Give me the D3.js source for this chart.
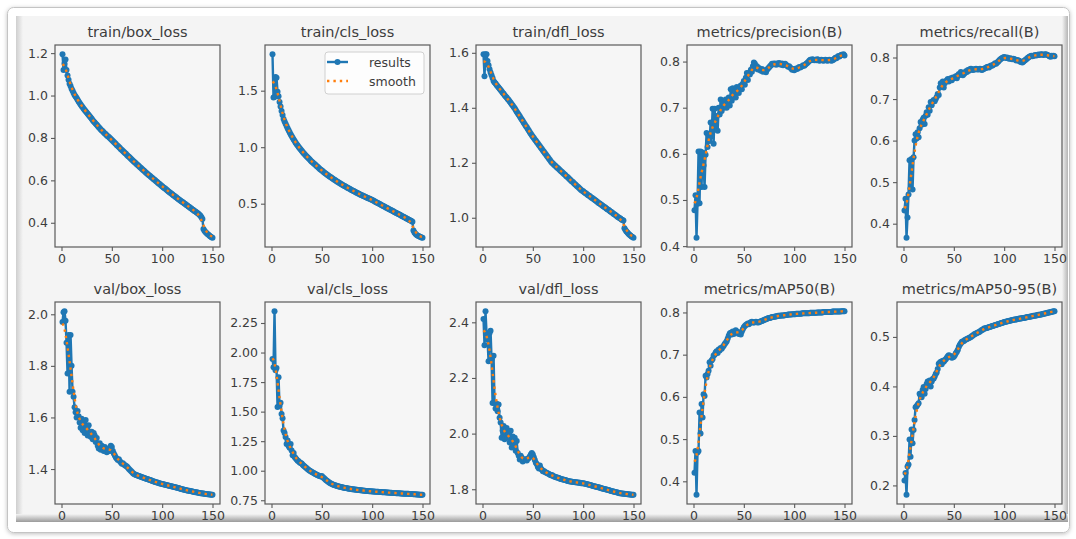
<!DOCTYPE html>
<html>
<head>
<meta charset="utf-8">
<script src="https://cdn.jsdelivr.net/npm/d3@7"></script>
<style>
  body { margin: 0; background: #fff; }
  svg { display: block; font-family: "DejaVu Sans", sans-serif; }
</style>
</head>
<body>
<svg id="chart" width="1076" height="539"></svg>
<script>
// training curves, one value per epoch (1..150)
var epochs = d3.range(1, 151);

var titles = ["train/box_loss", "train/cls_loss", "train/dfl_loss", "metrics/precision(B)", "metrics/recall(B)",
              "val/box_loss", "val/cls_loss", "val/dfl_loss", "metrics/mAP50(B)", "metrics/mAP50-95(B)"];

var trainBoxLoss = [
  1.195, 1.120, 1.150, 1.170, 1.120, 1.095, 1.075, 1.055, 1.045, 1.032,
  1.022, 1.012, 1.003, 0.995, 0.988, 0.980, 0.972, 0.965, 0.958, 0.951,
  0.945, 0.938, 0.932, 0.926, 0.920, 0.914, 0.908, 0.902, 0.896, 0.890,
  0.884, 0.878, 0.873, 0.867, 0.862, 0.856, 0.851, 0.846, 0.840, 0.835,
  0.831, 0.826, 0.821, 0.817, 0.812, 0.808, 0.804, 0.800, 0.795, 0.790,
  0.786, 0.781, 0.776, 0.771, 0.766, 0.762, 0.757, 0.752, 0.747, 0.743,
  0.738, 0.734, 0.729, 0.725, 0.720, 0.715, 0.711, 0.706, 0.702, 0.697,
  0.693, 0.688, 0.684, 0.680, 0.675, 0.671, 0.666, 0.662, 0.658, 0.653,
  0.649, 0.645, 0.641, 0.636, 0.632, 0.628, 0.624, 0.620, 0.616, 0.612,
  0.608, 0.604, 0.600, 0.596, 0.592, 0.588, 0.584, 0.580, 0.576, 0.572,
  0.568, 0.564, 0.561, 0.557, 0.553, 0.549, 0.545, 0.542, 0.538, 0.534,
  0.530, 0.527, 0.523, 0.520, 0.516, 0.512, 0.509, 0.505, 0.502, 0.498,
  0.495, 0.491, 0.488, 0.484, 0.481, 0.477, 0.474, 0.470, 0.467, 0.463,
  0.460, 0.456, 0.453, 0.449, 0.446, 0.442, 0.438, 0.433, 0.426, 0.418,
  0.370, 0.362, 0.357, 0.352, 0.347, 0.343, 0.339, 0.335, 0.332, 0.329];

var trainClsLoss = [
  1.823, 1.440, 1.445, 1.620, 1.615, 1.490, 1.450, 1.400, 1.360, 1.320,
  1.285, 1.250, 1.228, 1.207, 1.187, 1.168, 1.150, 1.132, 1.115, 1.099,
  1.083, 1.068, 1.054, 1.040, 1.027, 1.014, 1.002, 0.990, 0.979, 0.968,
  0.957, 0.947, 0.937, 0.927, 0.917, 0.908, 0.899, 0.890, 0.881, 0.872,
  0.864, 0.856, 0.848, 0.840, 0.832, 0.824, 0.816, 0.808, 0.800, 0.793,
  0.786, 0.779, 0.772, 0.765, 0.758, 0.751, 0.745, 0.739, 0.733, 0.727,
  0.721, 0.715, 0.709, 0.703, 0.697, 0.691, 0.686, 0.680, 0.675, 0.669,
  0.664, 0.659, 0.654, 0.649, 0.644, 0.639, 0.634, 0.629, 0.624, 0.619,
  0.614, 0.610, 0.605, 0.600, 0.596, 0.591, 0.587, 0.582, 0.578, 0.574,
  0.569, 0.565, 0.561, 0.557, 0.553, 0.549, 0.545, 0.541, 0.537, 0.533,
  0.528, 0.523, 0.518, 0.513, 0.508, 0.503, 0.499, 0.494, 0.489, 0.484,
  0.480, 0.475, 0.470, 0.465, 0.461, 0.456, 0.451, 0.446, 0.442, 0.437,
  0.432, 0.427, 0.423, 0.418, 0.413, 0.408, 0.404, 0.399, 0.394, 0.389,
  0.385, 0.380, 0.375, 0.370, 0.366, 0.361, 0.356, 0.351, 0.346, 0.341,
  0.262, 0.245, 0.234, 0.226, 0.219, 0.213, 0.209, 0.205, 0.201, 0.198];

var trainDflLoss = [
  1.595, 1.515, 1.595, 1.595, 1.570, 1.555, 1.540, 1.528, 1.518, 1.508,
  1.497, 1.492, 1.488, 1.483, 1.478, 1.474, 1.469, 1.465, 1.460, 1.455,
  1.451, 1.446, 1.441, 1.437, 1.432, 1.428, 1.423, 1.418, 1.413, 1.408,
  1.403, 1.398, 1.392, 1.386, 1.380, 1.375, 1.369, 1.363, 1.357, 1.352,
  1.346, 1.340, 1.334, 1.329, 1.323, 1.317, 1.311, 1.306, 1.300, 1.295,
  1.290, 1.285, 1.280, 1.275, 1.270, 1.265, 1.260, 1.255, 1.250, 1.245,
  1.240, 1.235, 1.230, 1.225, 1.220, 1.215, 1.210, 1.205, 1.200, 1.197,
  1.193, 1.190, 1.186, 1.183, 1.180, 1.176, 1.173, 1.169, 1.166, 1.163,
  1.159, 1.156, 1.152, 1.149, 1.146, 1.142, 1.139, 1.135, 1.132, 1.129,
  1.125, 1.122, 1.118, 1.115, 1.112, 1.108, 1.105, 1.101, 1.098, 1.096,
  1.093, 1.090, 1.088, 1.085, 1.082, 1.080, 1.077, 1.074, 1.072, 1.069,
  1.066, 1.064, 1.061, 1.058, 1.055, 1.053, 1.050, 1.047, 1.045, 1.042,
  1.039, 1.037, 1.034, 1.031, 1.029, 1.026, 1.023, 1.021, 1.018, 1.015,
  1.013, 1.010, 1.007, 1.004, 1.002, 0.999, 0.997, 0.994, 0.992, 0.990,
  0.962, 0.955, 0.950, 0.946, 0.942, 0.938, 0.935, 0.932, 0.930, 0.927];

var precision = [
  0.478, 0.510, 0.418, 0.492, 0.605, 0.493, 0.605, 0.528, 0.603, 0.575,
  0.528, 0.598, 0.645, 0.615, 0.640, 0.628, 0.668, 0.638, 0.698, 0.622,
  0.698, 0.660, 0.682, 0.650, 0.700, 0.685, 0.718, 0.693, 0.712, 0.700,
  0.708, 0.718, 0.700, 0.712, 0.722, 0.705, 0.740, 0.715, 0.742, 0.728,
  0.735, 0.722, 0.745, 0.738, 0.732, 0.742, 0.748, 0.740, 0.752, 0.758,
  0.750, 0.765, 0.775, 0.760, 0.775, 0.772, 0.782, 0.778, 0.790, 0.798,
  0.795, 0.785, 0.790, 0.783, 0.786, 0.782, 0.780, 0.784, 0.778, 0.781,
  0.779, 0.777, 0.782, 0.785, 0.787, 0.790, 0.792, 0.795, 0.794, 0.796,
  0.795, 0.793, 0.796, 0.794, 0.797, 0.795, 0.793, 0.796, 0.792, 0.794,
  0.795, 0.793, 0.791, 0.789, 0.790, 0.787, 0.785, 0.782, 0.784, 0.781,
  0.783, 0.785, 0.784, 0.786, 0.788, 0.787, 0.789, 0.790, 0.792, 0.791,
  0.793, 0.795, 0.797, 0.799, 0.802, 0.804, 0.803, 0.805, 0.804, 0.803,
  0.804, 0.803, 0.805, 0.804, 0.802, 0.803, 0.804, 0.803, 0.802, 0.803,
  0.804, 0.803, 0.802, 0.803, 0.804, 0.803, 0.802, 0.803, 0.804, 0.806,
  0.808, 0.807, 0.810, 0.812, 0.811, 0.813, 0.815, 0.814, 0.816, 0.813];

var recall = [
  0.432, 0.460, 0.366, 0.415, 0.470, 0.553, 0.485, 0.556, 0.482, 0.560,
  0.600, 0.615, 0.605, 0.620, 0.608, 0.630, 0.645, 0.638, 0.650, 0.655,
  0.640, 0.660, 0.668, 0.662, 0.680, 0.672, 0.693, 0.685, 0.695, 0.698,
  0.695, 0.700, 0.705, 0.712, 0.710, 0.728, 0.738, 0.733, 0.742, 0.728,
  0.738, 0.742, 0.745, 0.748, 0.742, 0.747, 0.750, 0.745, 0.752, 0.750,
  0.752, 0.755, 0.750, 0.757, 0.760, 0.758, 0.765, 0.762, 0.757, 0.760,
  0.763, 0.767, 0.765, 0.770, 0.768, 0.772, 0.773, 0.771, 0.770, 0.772,
  0.771, 0.773, 0.772, 0.771, 0.772, 0.773, 0.771, 0.770, 0.772, 0.773,
  0.774, 0.775, 0.777, 0.778, 0.776, 0.779, 0.781, 0.780, 0.782, 0.784,
  0.786, 0.785, 0.788, 0.790, 0.793, 0.795, 0.797, 0.799, 0.800, 0.801,
  0.800, 0.799, 0.800, 0.798, 0.797, 0.798, 0.797, 0.796, 0.797, 0.796,
  0.795, 0.793, 0.794, 0.793, 0.792, 0.790, 0.789, 0.788, 0.790, 0.792,
  0.794, 0.796, 0.798, 0.800, 0.802, 0.803, 0.804, 0.803, 0.804, 0.805,
  0.806, 0.805, 0.806, 0.807, 0.806, 0.807, 0.808, 0.807, 0.806, 0.807,
  0.808, 0.807, 0.806, 0.805, 0.803, 0.802, 0.804, 0.803, 0.804, 0.803];

var valBoxLoss = [
  1.970, 2.008, 2.012, 1.975, 1.890, 1.770, 1.920, 1.700, 1.920, 1.800,
  1.700, 1.680, 1.640, 1.620, 1.600, 1.625, 1.605, 1.580, 1.560, 1.595,
  1.550, 1.585, 1.540, 1.590, 1.560, 1.530, 1.570, 1.540, 1.525, 1.545,
  1.515, 1.540, 1.530, 1.505, 1.520, 1.490, 1.480, 1.500, 1.475, 1.490,
  1.482, 1.470, 1.485, 1.478, 1.465, 1.475, 1.480, 1.470, 1.490, 1.485,
  1.470, 1.460, 1.452, 1.445, 1.440, 1.435, 1.438, 1.430, 1.425, 1.420,
  1.422, 1.418, 1.415, 1.412, 1.410, 1.405, 1.400, 1.396, 1.392, 1.388,
  1.384, 1.381, 1.379, 1.377, 1.376, 1.374, 1.373, 1.371, 1.370, 1.368,
  1.367, 1.365, 1.364, 1.362, 1.361, 1.360, 1.358, 1.357, 1.356, 1.354,
  1.353, 1.352, 1.350, 1.349, 1.348, 1.347, 1.345, 1.344, 1.343, 1.342,
  1.341, 1.340, 1.339, 1.338, 1.337, 1.336, 1.335, 1.334, 1.333, 1.332,
  1.331, 1.330, 1.329, 1.328, 1.327, 1.326, 1.325, 1.324, 1.323, 1.322,
  1.321, 1.320, 1.319, 1.318, 1.317, 1.316, 1.316, 1.315, 1.314, 1.313,
  1.312, 1.311, 1.310, 1.310, 1.309, 1.308, 1.307, 1.306, 1.306, 1.305,
  1.305, 1.304, 1.303, 1.303, 1.302, 1.302, 1.301, 1.301, 1.300, 1.300];

var valClsLoss = [
  1.945, 1.875, 2.350, 1.850, 1.870, 1.540, 1.790, 1.550, 1.575, 1.480,
  1.445, 1.340, 1.320, 1.285, 1.225, 1.255, 1.210, 1.195, 1.225, 1.170,
  1.130, 1.150, 1.115, 1.105, 1.095, 1.085, 1.080, 1.070, 1.065, 1.060,
  1.050, 1.042, 1.035, 1.028, 1.020, 1.013, 1.006, 1.000, 0.995, 0.990,
  0.985, 0.980, 0.975, 0.970, 0.965, 0.962, 0.958, 0.955, 0.952, 0.955,
  0.945, 0.938, 0.930, 0.922, 0.915, 0.908, 0.902, 0.897, 0.892, 0.888,
  0.884, 0.880, 0.877, 0.874, 0.871, 0.869, 0.866, 0.864, 0.862, 0.860,
  0.858, 0.856, 0.854, 0.853, 0.851, 0.850, 0.848, 0.847, 0.845, 0.844,
  0.843, 0.841, 0.840, 0.839, 0.838, 0.837, 0.836, 0.835, 0.834, 0.833,
  0.832, 0.831, 0.830, 0.829, 0.829, 0.828, 0.827, 0.826, 0.826, 0.825,
  0.824, 0.824, 0.823, 0.822, 0.822, 0.821, 0.820, 0.820, 0.819, 0.818,
  0.818, 0.817, 0.817, 0.816, 0.815, 0.815, 0.814, 0.814, 0.813, 0.812,
  0.812, 0.811, 0.811, 0.810, 0.810, 0.809, 0.809, 0.808, 0.808, 0.807,
  0.806, 0.806, 0.805, 0.805, 0.804, 0.804, 0.803, 0.803, 0.802, 0.802,
  0.801, 0.800, 0.800, 0.799, 0.798, 0.798, 0.797, 0.797, 0.796, 0.796];

var valDflLoss = [
  2.412, 2.318, 2.440, 2.362, 2.338, 2.260, 2.362, 2.370, 2.267, 2.110,
  2.280, 2.110, 2.090, 2.107, 2.080, 2.105, 2.057, 2.040, 1.985, 2.010,
  2.027, 1.980, 2.003, 2.020, 1.985, 1.997, 1.968, 2.010, 1.950, 1.990,
  1.960, 1.985, 1.938, 1.973, 1.930, 1.920, 1.907, 1.920, 1.913, 1.900,
  1.907, 1.905, 1.908, 1.903, 1.910, 1.912, 1.918, 1.925, 1.930, 1.925,
  1.915, 1.905, 1.895, 1.890, 1.880, 1.875, 1.885, 1.875, 1.870, 1.865,
  1.866, 1.862, 1.860, 1.858, 1.857, 1.855, 1.852, 1.850, 1.851, 1.848,
  1.846, 1.845, 1.843, 1.842, 1.841, 1.840, 1.838, 1.837, 1.836, 1.835,
  1.834, 1.833, 1.832, 1.831, 1.830, 1.829, 1.828, 1.828, 1.827, 1.826,
  1.826, 1.825, 1.825, 1.824, 1.824, 1.823, 1.823, 1.822, 1.822, 1.822,
  1.821, 1.820, 1.819, 1.818, 1.817, 1.816, 1.815, 1.814, 1.813, 1.812,
  1.811, 1.810, 1.809, 1.808, 1.807, 1.806, 1.805, 1.804, 1.803, 1.802,
  1.801, 1.800, 1.799, 1.798, 1.797, 1.796, 1.795, 1.794, 1.793, 1.792,
  1.791, 1.790, 1.789, 1.788, 1.787, 1.786, 1.786, 1.785, 1.785, 1.784,
  1.784, 1.783, 1.783, 1.782, 1.782, 1.781, 1.781, 1.780, 1.780, 1.780];

var map50 = [
  0.420, 0.472, 0.368, 0.468, 0.472, 0.563, 0.513, 0.583, 0.551, 0.606,
  0.602, 0.650, 0.646, 0.654, 0.662, 0.682, 0.674, 0.686, 0.690, 0.698,
  0.700, 0.705, 0.708, 0.704, 0.712, 0.710, 0.716, 0.714, 0.718, 0.721,
  0.725, 0.728, 0.732, 0.738, 0.745, 0.750, 0.752, 0.748, 0.755, 0.749,
  0.752, 0.758, 0.755, 0.752, 0.749, 0.752, 0.748, 0.755, 0.760, 0.765,
  0.768, 0.770, 0.772, 0.774, 0.772, 0.775, 0.777, 0.778, 0.776, 0.776,
  0.777, 0.778, 0.777, 0.776, 0.777, 0.778, 0.779, 0.780, 0.781, 0.782,
  0.783, 0.784, 0.785, 0.786, 0.787, 0.787, 0.788, 0.789, 0.789, 0.790,
  0.790, 0.791, 0.791, 0.792, 0.792, 0.792, 0.793, 0.793, 0.793, 0.793,
  0.794, 0.794, 0.794, 0.795, 0.795, 0.795, 0.795, 0.796, 0.796, 0.796,
  0.796, 0.797, 0.797, 0.797, 0.797, 0.797, 0.797, 0.798, 0.798, 0.798,
  0.798, 0.798, 0.798, 0.798, 0.798, 0.799, 0.799, 0.799, 0.799, 0.799,
  0.799, 0.799, 0.800, 0.800, 0.800, 0.800, 0.800, 0.800, 0.801, 0.801,
  0.801, 0.801, 0.801, 0.801, 0.801, 0.801, 0.801, 0.802, 0.802, 0.802,
  0.802, 0.802, 0.802, 0.802, 0.802, 0.802, 0.803, 0.803, 0.803, 0.803];

var map5095 = [
  0.210, 0.225, 0.181, 0.238, 0.242, 0.293, 0.258, 0.313, 0.285, 0.312,
  0.332, 0.358, 0.360, 0.363, 0.366, 0.385, 0.381, 0.378, 0.393, 0.399,
  0.385, 0.395, 0.405, 0.410, 0.408, 0.412, 0.400, 0.410, 0.415, 0.416,
  0.420, 0.425, 0.428, 0.435, 0.446, 0.448, 0.450, 0.445, 0.452, 0.450,
  0.453, 0.455, 0.458, 0.461, 0.463, 0.462, 0.460, 0.458, 0.459, 0.460,
  0.463, 0.467, 0.470, 0.474, 0.480, 0.484, 0.487, 0.490, 0.491, 0.492,
  0.494, 0.495, 0.496, 0.497, 0.498, 0.499, 0.500, 0.502, 0.503, 0.505,
  0.506, 0.507, 0.508, 0.509, 0.510, 0.511, 0.513, 0.514, 0.515, 0.517,
  0.517, 0.518, 0.518, 0.519, 0.520, 0.520, 0.521, 0.522, 0.522, 0.523,
  0.524, 0.524, 0.525, 0.526, 0.526, 0.527, 0.528, 0.528, 0.529, 0.530,
  0.530, 0.531, 0.531, 0.532, 0.532, 0.533, 0.533, 0.534, 0.534, 0.535,
  0.535, 0.535, 0.536, 0.536, 0.537, 0.537, 0.537, 0.538, 0.538, 0.538,
  0.539, 0.539, 0.540, 0.540, 0.541, 0.541, 0.542, 0.542, 0.543, 0.543,
  0.543, 0.544, 0.544, 0.545, 0.545, 0.545, 0.546, 0.546, 0.547, 0.547,
  0.548, 0.548, 0.549, 0.549, 0.550, 0.550, 0.551, 0.551, 0.552, 0.552];

// y tick labels per panel, same order as titles
var yTickLabels = [
  ["0.4", "0.6", "0.8", "1.0", "1.2"],
  ["0.5", "1.0", "1.5"],
  ["1.0", "1.2", "1.4", "1.6"],
  ["0.4", "0.5", "0.6", "0.7", "0.8"],
  ["0.4", "0.5", "0.6", "0.7", "0.8"],
  ["1.4", "1.6", "1.8", "2.0"],
  ["0.75", "1.00", "1.25", "1.50", "1.75", "2.00", "2.25"],
  ["1.8", "2.0", "2.2", "2.4"],
  ["0.4", "0.5", "0.6", "0.7", "0.8"],
  ["0.2", "0.3", "0.4", "0.5"]];
var xTickLabels = ["0", "50", "100", "150"];

var legendLabels = ["results", "smooth"];

var series = [trainBoxLoss, trainClsLoss, trainDflLoss, precision, recall,
              valBoxLoss, valClsLoss, valDflLoss, map50, map5095];

var blue = "#1f77b4", orange = "#ff7f0e";
var textColor = "#3c3c3c", spineColor = "#5a5a5a";

// gaussian smoothing like scipy gaussian_filter1d (sigma 3, reflect edges)
function gaussSmooth(vals, sigma) {
  var r = Math.round(4 * sigma);
  var w = d3.range(-r, r + 1).map(function(k) { return Math.exp(-0.5 * k * k / (sigma * sigma)); });
  var wsum = d3.sum(w);
  var n = vals.length;
  return vals.map(function(v, i) {
    var s = 0;
    for (var k = -r; k <= r; k++) {
      var j = i + k;
      if (j < 0) j = -j - 1;
      if (j >= n) j = 2 * n - j - 1;
      s += vals[j] * w[k + r];
    }
    return s / wsum;
  });
}

// matplotlib-style 5% autoscale margin
function padDomain(ext) {
  var m = (ext[1] - ext[0]) * 0.05;
  return [ext[0] - m, ext[1] + m];
}

var svg = d3.select("#chart");
var defs = svg.append("defs");

// ---- window frame around the figure ----
var sh = defs.append("filter").attr("id", "shadow").attr("x", "-5%").attr("y", "-5%").attr("width", "110%").attr("height", "115%");
sh.append("feDropShadow").attr("dx", 0).attr("dy", 1).attr("stdDeviation", 2).attr("flood-color", "#000").attr("flood-opacity", 0.25);

var gBottom = defs.append("linearGradient").attr("id", "bevelBottom").attr("x1", 0).attr("y1", 0).attr("x2", 0).attr("y2", 1);
gBottom.append("stop").attr("offset", "0%").attr("stop-color", "#f4f4f4");
gBottom.append("stop").attr("offset", "100%").attr("stop-color", "#9a9a9a");

var gLeft = defs.append("linearGradient").attr("id", "bevelLeft").attr("x1", 0).attr("y1", 0).attr("x2", 1).attr("y2", 0);
gLeft.append("stop").attr("offset", "0%").attr("stop-color", "#cfcfcf");
gLeft.append("stop").attr("offset", "100%").attr("stop-color", "#f4f4f4");

var gRight = defs.append("linearGradient").attr("id", "bevelRight").attr("x1", 0).attr("y1", 0).attr("x2", 1).attr("y2", 0);
gRight.append("stop").attr("offset", "0%").attr("stop-color", "#f4f4f4");
gRight.append("stop").attr("offset", "100%").attr("stop-color", "#b5b5b5");

svg.append("rect").attr("x", 7.5).attr("y", 7.5).attr("width", 1062).attr("height", 525).attr("rx", 6)
  .attr("fill", "#fff").attr("stroke", "#c4c4c4").attr("filter", "url(#shadow)");
svg.append("rect").attr("x", 16).attr("y", 16).attr("width", 1052).attr("height", 506).attr("fill", "#f4f4f4");
svg.append("rect").attr("x", 16).attr("y", 16).attr("width", 7).attr("height", 506).attr("fill", "url(#bevelLeft)");
svg.append("rect").attr("x", 1062).attr("y", 16).attr("width", 6).attr("height", 506).attr("fill", "url(#bevelRight)");
svg.append("rect").attr("x", 16).attr("y", 514).attr("width", 1052).attr("height", 8).attr("fill", "url(#bevelBottom)");

// ---- panels ----
var colLeft = [55, 265, 476, 687, 897];
var rowTop = [45, 302];
var pw = 165, ph = 202;

series.forEach(function(vals, i) {
  var left = colLeft[i % 5];
  var top = rowTop[Math.floor(i / 5)];
  var g = svg.append("g").attr("transform", "translate(" + left + "," + top + ")");

  var x = d3.scaleLinear().domain(padDomain(d3.extent(epochs))).range([0, pw]);
  var y = d3.scaleLinear().domain(padDomain(d3.extent(vals))).range([ph, 0]);

  g.append("rect").attr("width", pw).attr("height", ph).attr("fill", "#f6f6f6");

  var labels = yTickLabels[i];
  var yAxis = d3.axisLeft(y).tickValues(labels.map(Number))
    .tickFormat(function(d, k) { return labels[k]; }).tickSize(4).tickPadding(3);
  var xAxis = d3.axisBottom(x).tickValues(xTickLabels.map(Number))
    .tickFormat(function(d, k) { return xTickLabels[k]; }).tickSize(4).tickPadding(3);

  var ya = g.append("g").call(yAxis);
  var xa = g.append("g").attr("transform", "translate(0," + ph + ")").call(xAxis);
  [ya, xa].forEach(function(a) {
    a.select(".domain").remove();
    a.selectAll("line").attr("stroke", spineColor).attr("stroke-width", 1.1);
    a.selectAll("text").attr("fill", textColor).style("font-size", "12.5px").style("font-family", "DejaVu Sans");
  });

  var line = d3.line().x(function(d, k) { return x(epochs[k]); }).y(function(d) { return y(d); });

  // results: line + point markers
  g.append("path").datum(vals).attr("d", line).attr("fill", "none")
    .attr("stroke", blue).attr("stroke-width", 2.4).attr("stroke-linejoin", "round");
  g.selectAll(".pt").data(vals).enter().append("circle").attr("class", "pt")
    .attr("cx", function(d, k) { return x(epochs[k]); })
    .attr("cy", function(d) { return y(d); })
    .attr("r", 3).attr("fill", blue);

  // smooth: dotted orange
  g.append("path").datum(gaussSmooth(vals, 3)).attr("d", line).attr("fill", "none")
    .attr("stroke", orange).attr("stroke-width", 2.4).attr("stroke-dasharray", "2.4,4");

  g.append("rect").attr("width", pw).attr("height", ph).attr("fill", "none")
    .attr("stroke", spineColor).attr("stroke-width", 1.2);

  g.append("text").attr("x", pw / 2).attr("y", -8).attr("text-anchor", "middle")
    .attr("fill", textColor).style("font-size", "14.5px").text(titles[i]);

  // legend only on the cls_loss panel
  if (i === 1) {
    var lg = g.append("g").attr("transform", "translate(60,7)");
    lg.append("rect").attr("width", 99).attr("height", 42).attr("rx", 3)
      .attr("fill", "#fff").attr("fill-opacity", 0.8).attr("stroke", "#d0d0d0");
    lg.append("line").attr("x1", 2).attr("x2", 23).attr("y1", 10).attr("y2", 10)
      .attr("stroke", blue).attr("stroke-width", 2.4);
    lg.append("circle").attr("cx", 12.5).attr("cy", 10).attr("r", 3).attr("fill", blue);
    lg.append("line").attr("x1", 2).attr("x2", 23).attr("y1", 29).attr("y2", 29)
      .attr("stroke", orange).attr("stroke-width", 2.4).attr("stroke-dasharray", "2.4,4");
    lg.selectAll(".lt").data(legendLabels).enter().append("text").attr("class", "lt")
      .attr("x", 44).attr("y", function(d, k) { return 14.5 + k * 19; })
      .attr("fill", textColor).style("font-size", "12.5px").text(function(d) { return d; });
  }
});
</script>
</body>
</html>
